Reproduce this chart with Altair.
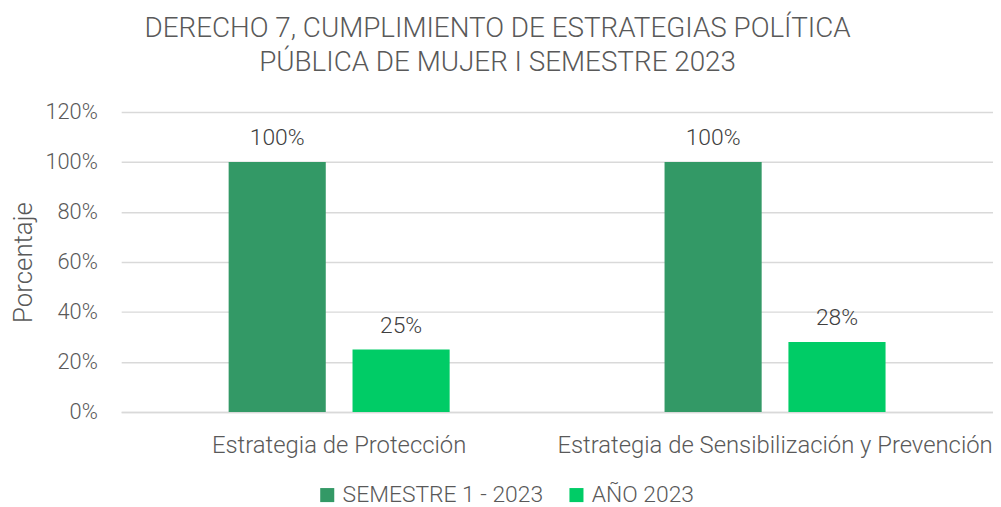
import altair as alt
import pandas as pd

categories = ["Estrategia de Protección", "Estrategia de Sensibilización y Prevención"]
series = ["SEMESTRE 1 - 2023", "AÑO 2023"]
semestre_vals = [1.00, 1.00]
anio_vals = [0.25, 0.28]
colors = ["#339966", "#00CC66"]

rows = []
for i, c in enumerate(categories):
    rows.append({"cat": c, "serie": series[0], "val": semestre_vals[i]})
    rows.append({"cat": c, "serie": series[1], "val": anio_vals[i]})
df = pd.DataFrame(rows)

FONT = "Roboto, sans-serif"
TXT = "#595959"

x = alt.X("cat:N", sort=categories, title=None,
          scale=alt.Scale(paddingInner=0.493, paddingOuter=0.2465),
          axis=alt.Axis(labelAngle=0, labelFontSize=24, labelColor=TXT, labelFont=FONT,
                        labelFontWeight=300, labelPadding=22, labelLimit=0, ticks=False,
                        domainColor="#d9d9d9", domainWidth=1.5))
xo = alt.XOffset("serie:N", sort=series, scale=alt.Scale(paddingInner=0.216, paddingOuter=0))
y = alt.Y("val:Q", title="Porcentaje",
          scale=alt.Scale(domain=[0, 1.2]),
          axis=alt.Axis(format=".0%", values=[0, 0.2, 0.4, 0.6, 0.8, 1.0, 1.2],
                        labelFontSize=22, labelColor=TXT, labelFont=FONT, labelFontWeight=300,
                        labelPadding=24, ticks=False, domain=False,
                        gridColor="#d9d9d9", gridWidth=1.5,
                        titleFontSize=26, titleColor=TXT, titleFont=FONT, titleFontWeight=300,
                        titlePadding=8))

bars = alt.Chart(df).mark_bar().encode(
    x=x, xOffset=xo, y=y,
    color=alt.Color("serie:N", sort=series, scale=alt.Scale(domain=series, range=colors),
                    legend=alt.Legend(title=None, orient="none", legendX=196, legendY=374,
                                      direction="horizontal", symbolType="square", symbolSize=200,
                                      labelFontSize=23, labelColor=TXT, labelFont=FONT,
                                      labelFontWeight=300, labelOffset=4, labelLimit=0,
                                      columnPadding=22, symbolStrokeWidth=0)),
)
labels = alt.Chart(df).mark_text(dy=-24, fontSize=23, color="#404040", font=FONT,
                                 fontWeight=300).encode(
    x=x, xOffset=xo, y=y, text=alt.Text("val:Q", format=".0%"))

chart = (bars + labels).properties(
    width=878, height=302,
    title=alt.Title(["DERECHO 7, CUMPLIMIENTO DE ESTRATEGIAS POLÍTICA",
                     "PÚBLICA DE MUJER I SEMESTRE 2023"],
                    fontSize=28, font=FONT, color=TXT, fontWeight=300,
                    anchor="middle", dx=-60, offset=24, lineHeight=35),
    autosize=alt.AutoSizeParams(type="none"),
    padding={"left": 114, "top": 103, "right": 0, "bottom": 98},
).configure_view(stroke=None)

chart.save("out.html", embed_options={"renderer": "svg", "actions": False})
